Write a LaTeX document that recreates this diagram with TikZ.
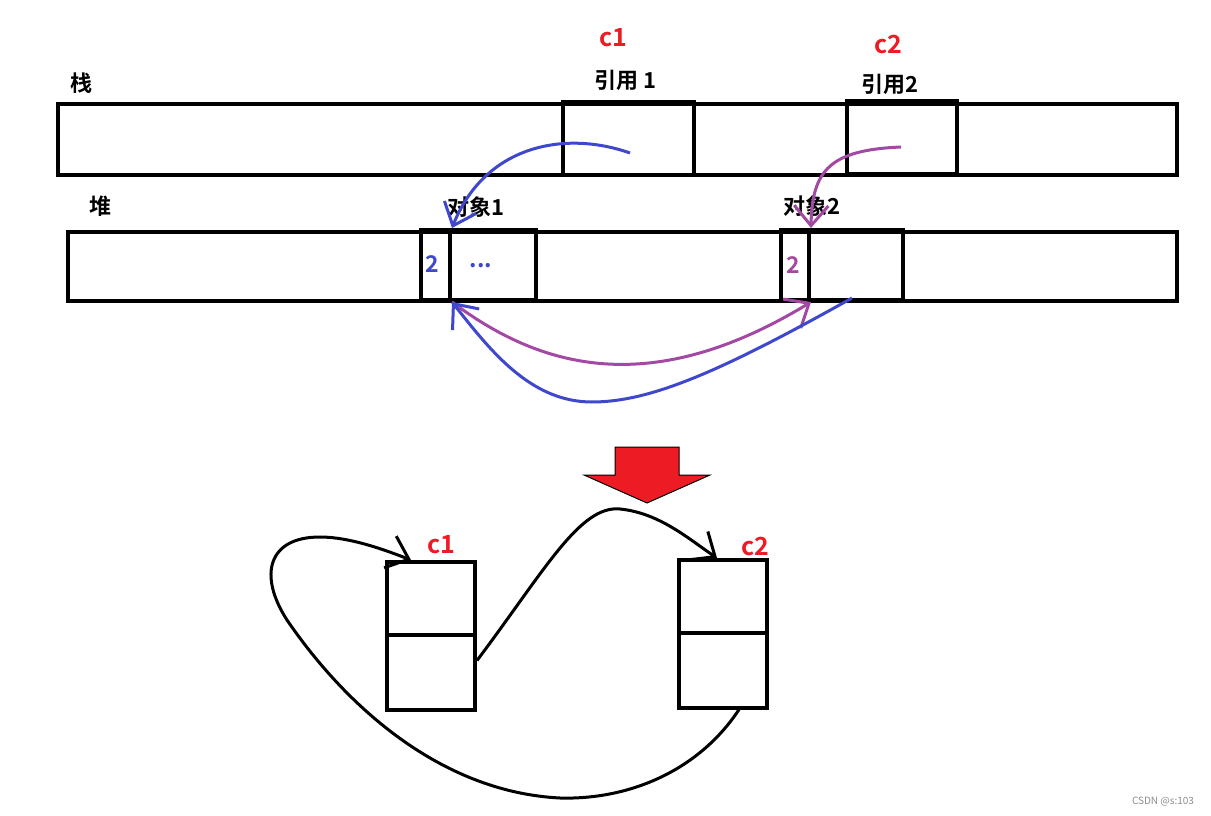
\documentclass[tikz,border=0pt]{standalone}
\usepackage{fontspec}
\setmainfont{Noto Sans CJK SC}
\newfontfamily\cjkb{Noto Sans CJK SC Bold}
\usetikzlibrary{arrows.meta}
\definecolor{pblue}{HTML}{3F48CC}
\definecolor{ppurple}{HTML}{A349A4}
\definecolor{pred}{HTML}{ED1C24}
\tikzset{
  cell/.style={draw=black, line width=4pt, inner sep=0pt, fill=none},
  lbl/.style={font=\cjkb\fontsize{22}{24}\selectfont, inner sep=0pt},
  rlbl/.style={font=\cjkb\fontsize{25}{27}\selectfont, text=pred, inner sep=0pt},
  numlbl/.style={font=\cjkb\fontsize{23}{25}\selectfont, inner sep=0pt},
  barb/.style={-{Straight Barb[length=20pt,width=34pt,line width=3pt]}},
  curveB/.style={line width=3pt, pblue, barb},
  curveP/.style={line width=3pt, ppurple, barb},
  curveK/.style={line width=3pt, black, barb},
}
\begin{document}
\begin{tikzpicture}[x=1pt,y=-1pt]
\useasboundingbox (0,0) rectangle (1211,816);
% stack
\node[cell, minimum width=1119pt, minimum height=71pt] (stack) at (617.5,139.5) {};
\node[cell, minimum width=131pt, minimum height=73pt] (ref1) at (628.5,138.5) {};
\node[cell, minimum width=110pt, minimum height=73pt] (ref2) at (902,137.5) {};
\node[lbl] (stacklbl) at (81,83) {栈};
\node[rlbl] (c1top) at (613,38) {c1};
\node[lbl] (ref1lbl) at (625,80) {引用 1};
\node[rlbl] (c2top) at (888,44) {c2};
\node[lbl] (ref2lbl) at (890,84) {引用2};
% heap
\node[cell, minimum width=1109pt, minimum height=69pt] (heap) at (622.5,266.5) {};
\node[cell, minimum width=29pt, minimum height=70pt] (o1cnt) at (435.5,265) {};
\node[cell, minimum width=86pt, minimum height=70pt] (o1body) at (493,265) {};
\node[cell, minimum width=28pt, minimum height=70pt] (o2cnt) at (795,265) {};
\node[cell, minimum width=94pt, minimum height=70pt] (o2body) at (856,265) {};
\node[lbl] (heaplbl) at (100,206) {堆};
\node[lbl] (o1lbl) at (476,207) {对象1};
\node[lbl] (o2lbl) at (812,206) {对象2};
\node[numlbl, text=pblue] (o1n) at (432,264) {2};
\node[numlbl, text=pblue] (o1dots) at (481,266) {...};
\node[numlbl, text=ppurple] (o2n) at (793,265) {2};
% connectors top
\coordinate (b1s) at (630,153);
\coordinate (p1s) at (901,147);
\coordinate (b2s) at (852,298);
\draw[curveB] (b1s) .. controls (565,130) and (485,145) .. (o1cnt.north east);
\draw[curveP] (p1s) .. controls (830,150) and (812,170) .. (o2cnt.north east);
\draw[curveP] (o1cnt.south east) .. controls (540,368) and (650,400) .. (o2cnt.south east);
\draw[curveB] (b2s) .. controls (720,372) and (650,402) .. (592,402) .. controls (530,402) and (490,350) .. (o1cnt.south east);
% red arrow
\draw[fill=pred, draw=black, line width=1pt] (615,447) -- (679,447) -- (679,475) -- (710,475) -- (647,503) -- (584,475) -- (615,475) -- cycle;
% bottom boxes
\node[cell, minimum width=88pt, minimum height=73pt] (c1a) at (431,598.5) {};
\node[cell, minimum width=88pt, minimum height=75pt] (c1b) at (431,672.5) {};
\node[cell, minimum width=88pt, minimum height=73pt] (c2a) at (723,596.5) {};
\node[cell, minimum width=88pt, minimum height=75pt] (c2b) at (723,670.5) {};
\node[rlbl] (c1lbl) at (441,545) {c1};
\node[rlbl] (c2lbl) at (755,546) {c2};
\coordinate (k1s) at (c1b.east);
\coordinate (k2s) at (740,708);
\draw[curveK] ([yshift=12pt]k1s) .. controls (545,570) and (580,505) .. (620,509) .. controls (660,513) and (690,540) .. ([xshift=-6pt]c2a.north);
\draw[curveK] (k2s) .. controls (700,770) and (630,800) .. (560,798) .. controls (440,792) and (345,705) .. (287,620) .. controls (258,575) and (268,537) .. (320,537) .. controls (350,537) and (385,550) .. ([xshift=-20pt]c1a.north);
% watermark
\node[font=\fontsize{10}{11}\selectfont, text=black!45, inner sep=0pt] (wm) at (1163,802) {CSDN @s:103};
\end{tikzpicture}
\end{document}
